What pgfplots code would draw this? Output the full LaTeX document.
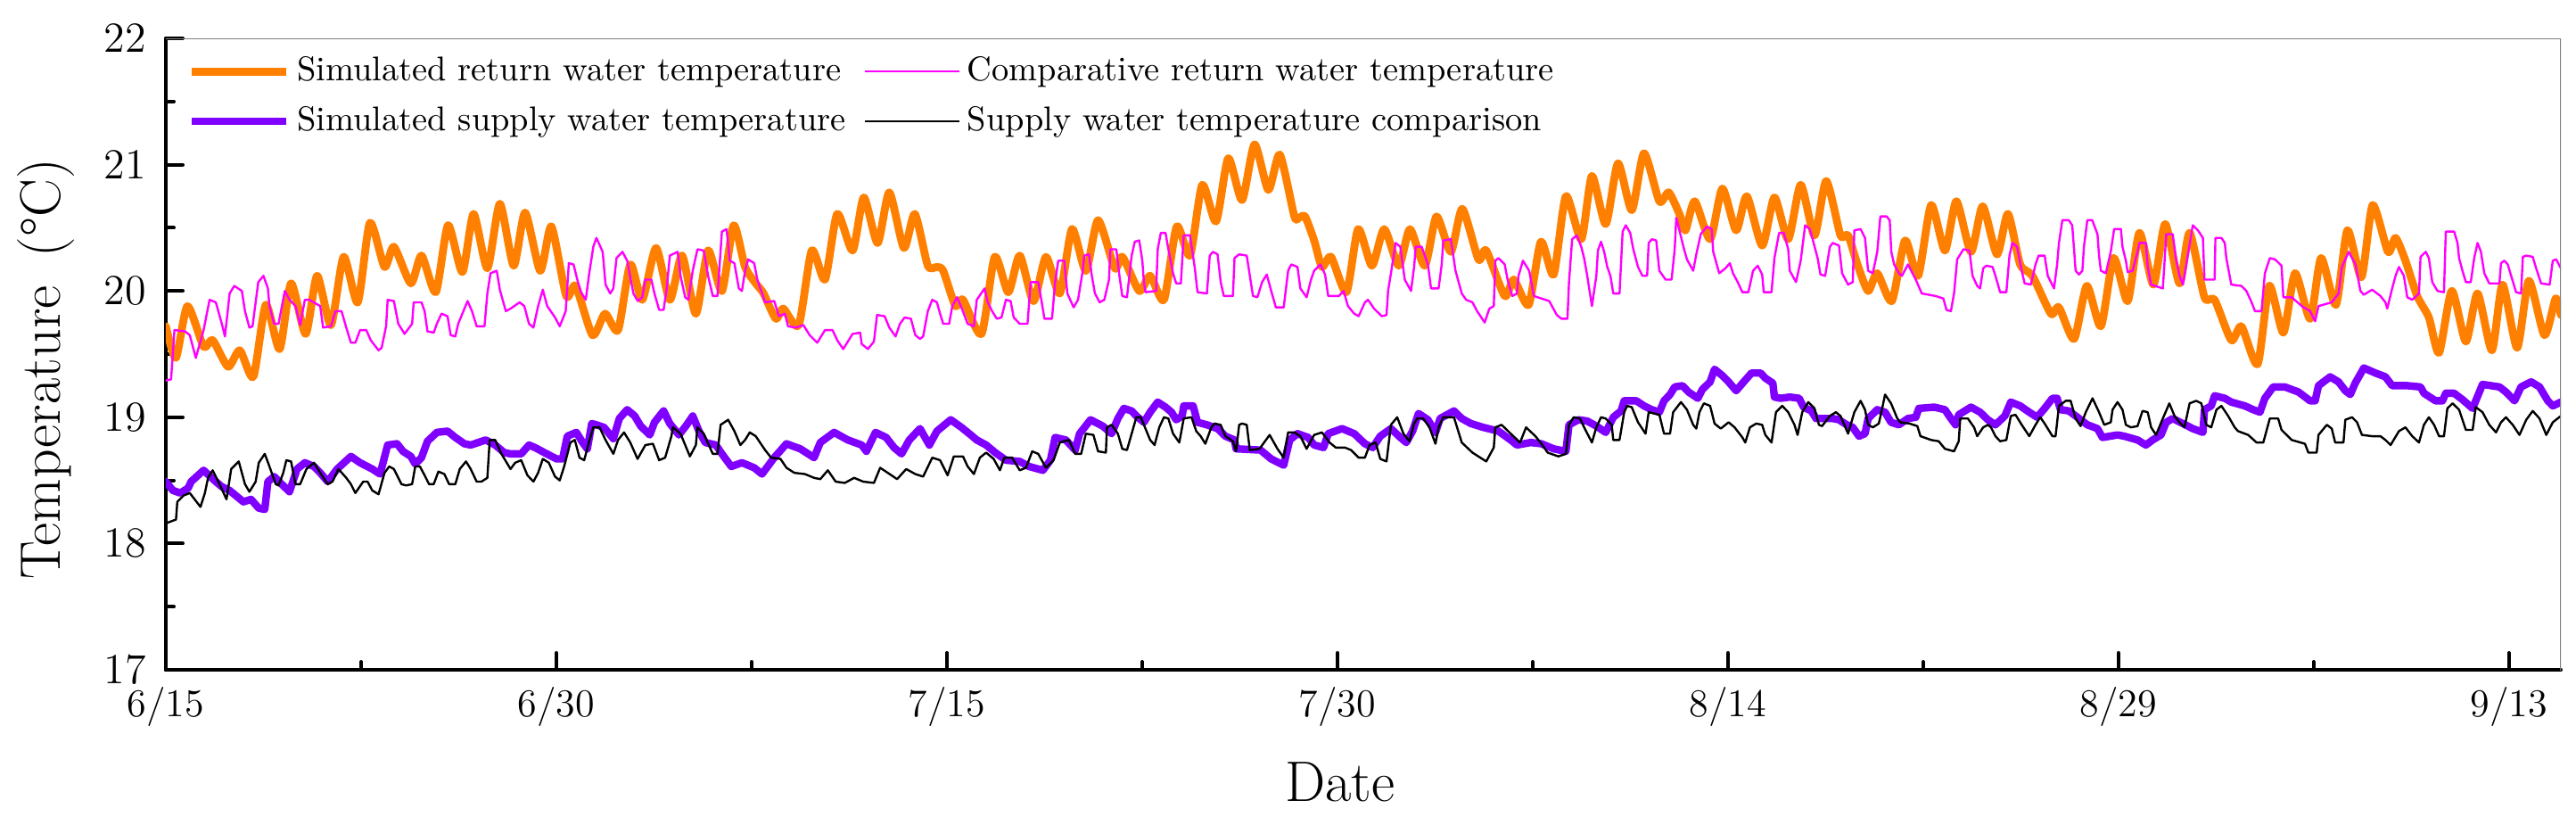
\documentclass[border=0pt]{standalone}
\usepackage{pgfplots}
\pgfplotsset{compat=1.18}
\definecolor{cOrange}{RGB}{255,128,0}
\definecolor{cPurple}{RGB}{128,0,255}
\definecolor{cMagenta}{RGB}{255,0,255}
\begin{document}
\begin{tikzpicture}
\begin{axis}[
  name=ax,
  scale only axis,
  width=671.5pt, height=177pt,
  xmin=0, xmax=92, ymin=17, ymax=22,
  axis x line*=bottom, axis y line*=left,
  axis line style={black, line width=1pt},
  xtick={0,15,30,45,60,75,90},
  xticklabels={6/15,6/30,7/15,7/30,8/14,8/29,9/13},
  minor xtick={7.5,22.5,37.5,52.5,67.5,82.5},
  ytick={17,18,19,20,21,22},
  minor ytick={17.5,18.5,19.5,20.5,21.5},
  tick align=inside,
  major tick length=4.75pt, minor tick length=2.25pt,
  every tick/.style={black, line width=1pt},
  tick label style={font=\fontsize{11}{13}\selectfont},
  yticklabel style={xshift=-2pt, font=\fontsize{11.5}{13}\selectfont},
  xticklabel style={yshift=-1.3pt},
  xlabel={Date},
  ylabel={Temperature\hspace{0.5em}(\textdegree C)},
  every axis x label/.style={at={(axis description cs:0.4903,-0.209)}, anchor=base, font=\fontsize{16}{19}\selectfont},
  every axis y label/.style={at={(axis description cs:-0.038,0.476)}, anchor=south, rotate=90, inner sep=0pt, font=\fontsize{16}{19}\selectfont},
  legend columns=2,
  legend cell align=left,
  legend style={draw=none, fill=none, at={(axis description cs:0,1)}, anchor=north west, xshift=6pt, yshift=-2.95pt, inner xsep=0pt, inner ysep=0pt, row sep=1.65pt, font=\fontsize{9.6}{11.5}\selectfont, /tikz/every even column/.append style={column sep=3pt}},
  legend image code/.code={\draw[#1] (0pt,0pt) -- (26.5pt,0pt);},
  line join=round, line cap=round,
]
\addplot[cOrange, line width=2.2pt, smooth, tension=0.4] coordinates {
(0,19.72)(0.385,19.47)(0.83,19.88)(1.45,19.56)(1.80,19.61)(2.39,19.40)(2.84,19.53)(3.36,19.32)(3.84,19.89)(4.37,19.54)(4.81,20.06)(5.37,19.66)(5.81,20.12)(6.34,19.73)(6.83,20.27)(7.37,19.91)(7.84,20.54)(8.40,20.19)(8.76,20.35)(9.41,20.06)(9.82,20.28)(10.37,19.99)(10.84,20.52)(11.39,20.15)(11.82,20.61)(12.35,20.18)(12.83,20.69)(13.36,20.20)(13.80,20.62)(14.38,20.16)(14.81,20.51)(15.38,19.96)(15.74,20.04)(16.39,19.65)(16.87,19.82)(17.37,19.69)(17.84,20.21)(18.30,19.93)(18.83,20.34)(19.36,19.93)(19.83,20.28)(20.36,19.82)(20.83,20.32)(21.36,20.00)(21.81,20.52)(22.25,20.19)(22.66,20.06)(22.96,19.98)(23.43,19.78)(23.72,19.86)(24.31,19.73)(24.81,20.32)(25.32,20.09)(25.79,20.61)(26.38,20.32)(26.81,20.74)(27.34,20.38)(27.79,20.78)(28.35,20.34)(28.77,20.61)(29.27,20.20)(29.62,20.19)(29.86,20.16)(30.33,19.88)(30.62,19.93)(31.33,19.66)(31.84,20.27)(32.36,19.99)(32.80,20.28)(33.33,19.92)(33.81,20.27)(34.34,19.98)(34.81,20.49)(35.34,20.16)(35.81,20.56)(36.45,20.18)(36.75,20.27)(37.39,20.00)(37.81,20.12)(38.34,19.93)(38.83,20.51)(39.34,20.28)(39.81,20.84)(40.34,20.55)(40.81,21.05)(41.34,20.72)(41.82,21.16)(42.35,20.80)(42.79,21.08)(43.35,20.59)(43.53,20.58)(43.76,20.59)(44.11,20.40)(44.41,20.19)(44.76,20.27)(45.35,19.99)(45.80,20.49)(46.33,20.20)(46.80,20.49)(47.36,20.20)(47.79,20.49)(48.36,20.20)(48.81,20.59)(49.36,20.31)(49.80,20.65)(50.42,20.25)(50.72,20.32)(51.43,19.96)(51.78,20.09)(52.35,19.89)(52.82,20.39)(53.31,20.13)(53.78,20.75)(54.37,20.41)(54.78,20.91)(55.31,20.53)(55.78,21.01)(56.31,20.64)(56.78,21.09)(57.37,20.71)(57.73,20.78)(58.14,20.61)(58.37,20.48)(58.73,20.71)(59.32,20.41)(59.79,20.81)(60.32,20.48)(60.73,20.75)(61.32,20.36)(61.79,20.74)(62.32,20.41)(62.80,20.84)(63.33,20.44)(63.78,20.87)(64.33,20.44)(64.62,20.44)(64.98,20.21)(65.39,20.00)(65.74,20.14)(66.30,19.92)(66.81,20.40)(67.31,20.12)(67.81,20.68)(68.34,20.32)(68.78,20.71)(69.34,20.31)(69.79,20.67)(70.34,20.29)(70.76,20.61)(71.23,20.21)(71.70,20.12)(72.41,19.82)(72.72,19.87)(73.30,19.62)(73.79,20.04)(74.33,19.72)(74.82,20.26)(75.36,19.92)(75.81,20.46)(76.35,20.05)(76.80,20.53)(77.35,20.06)(77.74,20.46)(78.31,19.95)(78.70,19.93)(79.34,19.61)(79.73,19.72)(80.35,19.42)(80.80,20.04)(81.34,19.67)(81.79,20.14)(82.37,19.78)(82.79,20.26)(83.36,19.89)(83.80,20.48)(84.34,20.11)(84.77,20.68)(85.36,20.31)(85.65,20.42)(86.03,20.24)(86.48,19.96)(86.93,19.79)(87.32,19.51)(87.81,20.00)(88.35,19.60)(88.80,19.98)(89.35,19.53)(89.76,20.05)(90.32,19.55)(90.77,20.08)(91.37,19.65)(91.80,19.94)(92,19.81)
};
\addlegendentry{Simulated return water temperature}
\addplot[cMagenta, line width=0.6pt] coordinates {
(0,19.29)(0.2,19.30)(0.33,19.69)(0.74,19.68)(0.92,19.65)(1.15,19.47)(1.45,19.69)(1.68,19.93)(1.92,19.91)(2.15,19.74)(2.27,19.64)(2.45,19.98)(2.63,20.04)(2.92,20.00)(3.04,19.84)(3.21,19.71)(3.33,19.72)(3.55,20.07)(3.75,20.12)(3.92,20.02)(3.98,19.88)(4.16,19.74)(4.33,19.74)(4.57,20.00)(4.75,19.93)(4.98,19.88)(5.16,19.73)(5.34,19.93)(5.51,19.93)(5.93,19.88)(6.04,19.71)(6.34,19.72)(6.52,19.84)(6.75,19.84)(6.93,19.71)(7.11,19.59)(7.28,19.59)(7.46,19.69)(7.70,19.69)(7.87,19.61)(8.17,19.53)(8.29,19.55)(8.46,19.72)(8.52,19.93)(8.76,19.92)(8.93,19.74)(9.17,19.66)(9.46,19.74)(9.52,19.91)(9.82,19.91)(9.94,19.84)(10.05,19.68)(10.29,19.67)(10.41,19.74)(10.59,19.82)(10.82,19.80)(10.94,19.65)(11.12,19.64)(11.23,19.74)(11.59,19.92)(11.76,19.84)(11.94,19.72)(12.24,19.72)(12.35,19.98)(12.47,20.14)(12.71,20.16)(12.83,20.01)(13.06,19.84)(13.24,19.86)(13.59,19.91)(13.77,19.88)(13.95,19.74)(14.12,19.71)(14.30,19.88)(14.48,20.01)(14.65,19.88)(14.95,19.79)(15.13,19.72)(15.36,19.84)(15.48,20.22)(15.66,20.21)(15.83,20.07)(15.95,19.99)(16.13,19.93)(16.25,20.12)(16.42,20.35)(16.54,20.42)(16.78,20.31)(16.89,20.05)(17.07,19.98)(17.19,20.02)(17.31,20.26)(17.54,20.31)(17.72,20.24)(17.96,19.98)(18.13,19.92)
(18.30,19.95)(18.42,20.09)(18.65,20.09)(18.77,19.98)(18.95,19.85)(19.12,19.85)(19.24,20.02)(19.36,20.28)(19.66,20.31)(19.77,20.12)(19.95,19.95)(20.07,19.93)(20.24,20.16)(20.42,20.33)(20.66,20.32)(20.83,20.12)(21.01,19.96)(21.19,19.96)(21.36,20.47)(21.54,20.49)(21.66,20.24)(21.84,20.22)(22.01,20.02)(22.13,20.00)(22.25,20.16)(22.37,20.25)(22.60,20.22)(22.72,20.09)(23.02,19.91)(23.37,19.92)(23.55,19.80)(23.78,19.82)(23.90,19.72)(24.20,19.71)(24.49,19.73)(24.73,19.65)(25.02,19.59)(25.32,19.69)(25.61,19.69)(25.79,19.61)(26.02,19.54)(26.20,19.60)(26.38,19.66)(26.67,19.67)(26.73,19.58)(26.97,19.54)(27.20,19.60)(27.32,19.81)(27.61,19.80)(27.79,19.71)(28.03,19.64)(28.20,19.74)(28.38,19.79)(28.62,19.78)(28.79,19.65)(28.97,19.62)(29.09,19.64)(29.27,19.84)(29.44,19.93)(29.62,19.91)(29.74,19.82)(29.86,19.74)(30.09,19.74)(30.21,19.88)(30.39,19.95)(30.56,19.87)(30.80,19.74)(31.04,19.72)(31.15,19.93)(31.45,20.02)(31.57,19.91)(31.74,19.84)(31.92,19.78)(32.10,19.79)(32.27,19.93)(32.45,19.92)(32.57,19.79)(32.80,19.74)(33.10,19.74)(33.22,20.07)(33.51,20.07)(33.63,19.93)(33.75,19.78)(34.04,19.78)(34.16,20.07)(34.28,20.24)(34.51,20.24)(34.63,19.98)(34.87,19.87)(35.04,19.93)(35.22,20.16)(35.28,20.28)(35.46,20.29)(35.57,20.12)(35.69,19.98)(35.87,19.91)(36.05,19.93)(36.23,20.09)(36.28,20.33)
(36.51,20.33)(36.63,20.12)(36.74,19.96)(36.92,19.95)(37.10,20.28)(37.22,20.39)(37.39,20.40)(37.51,20.24)(37.57,20.07)(37.63,19.99)(38.04,20.00)(38.10,20.33)(38.22,20.46)(38.40,20.46)(38.51,20.33)(38.69,20.14)(38.81,20.06)(38.99,20.06)(39.10,20.44)(39.34,20.44)(39.52,20.19)(39.63,19.99)(39.99,19.98)(40.10,20.28)(40.22,20.31)(40.40,20.29)(40.52,20.07)(40.64,19.96)(40.99,19.96)(41.05,20.26)(41.23,20.29)(41.52,20.28)(41.64,20.12)(41.76,19.96)(41.93,19.95)(42.11,20.07)(42.29,20.13)(42.46,20.00)(42.64,19.87)(42.94,19.87)(43.11,20.16)(43.23,20.21)(43.47,20.19)(43.58,20.02)(43.82,19.95)(43.99,20.09)(44.11,20.16)(44.35,20.21)(44.53,20.13)(44.65,19.96)(45.06,19.96)(45.24,20.00)(45.41,19.88)(45.65,19.82)(45.82,19.80)(46.06,19.91)(46.18,19.93)(46.41,19.86)(46.71,19.80)(46.89,19.81)(46.95,20.00)(47.06,20.14)(47.24,20.38)(47.42,20.35)(47.59,20.09)(47.83,20.00)(47.95,20.19)(48.01,20.35)(48.24,20.35)(48.48,20.21)(48.60,20.02)(48.89,20.02)(49.01,20.21)(49.07,20.40)(49.36,20.41)(49.54,20.16)(49.78,19.98)(49.95,19.93)(50.19,19.91)(50.37,19.84)(50.66,19.75)(50.84,19.86)(51.01,19.88)(51.07,20.24)(51.19,20.26)(51.43,20.21)(51.54,20.09)(51.72,19.96)(51.90,19.98)(51.96,20.12)(52.13,20.24)(52.37,20.16)(52.55,19.96)(53.14,19.92)(53.43,19.81)(53.61,19.78)(53.84,19.78)(53.90,20.07)(54.02,20.41)(54.20,20.44)(54.37,20.35)
(54.48,20.26)(54.60,20.12)(54.78,19.88)(54.95,20.12)(55.01,20.32)(55.13,20.39)(55.25,20.31)(55.37,20.19)(55.49,20.12)(55.60,19.98)(55.84,19.98)(55.96,20.47)(56.08,20.52)(56.25,20.46)(56.37,20.33)(56.55,20.19)(56.72,20.12)(56.90,20.12)(56.96,20.38)(57.08,20.41)(57.25,20.40)(57.37,20.16)(57.61,20.09)(57.84,20.09)(57.96,20.33)(58.02,20.58)(58.32,20.33)(58.43,20.25)(58.67,20.16)(58.79,20.29)(58.96,20.45)(59.20,20.51)(59.38,20.49)(59.44,20.31)(59.67,20.14)(59.91,20.18)(60.08,20.22)(60.20,20.14)(60.38,20.07)(60.56,19.99)(60.79,19.99)(60.97,20.16)(61.15,20.20)(61.32,20.13)(61.38,19.99)(61.68,19.99)(61.79,20.26)(61.97,20.46)(62.15,20.46)(62.32,20.33)(62.38,20.16)(62.62,20.07)(62.80,20.24)(62.97,20.52)(63.15,20.49)(63.27,20.40)(63.45,20.26)(63.56,20.13)(63.74,20.12)(63.92,20.35)(64.03,20.38)(64.27,20.36)(64.39,20.14)(64.62,20.05)(64.80,20.07)(64.86,20.48)(65.10,20.49)(65.27,20.42)(65.39,20.16)(65.57,20.14)(65.74,20.31)(65.86,20.59)(66.10,20.59)(66.22,20.56)(66.28,20.31)(66.39,20.21)(66.57,20.14)(66.69,20.12)(66.92,20.21)(67.22,20.09)(67.45,19.98)(67.98,19.96)(68.28,19.94)(68.40,19.85)(68.57,19.84)(68.69,19.98)(68.81,20.25)(69.05,20.33)(69.28,20.32)(69.40,20.12)(69.58,20.04)(69.69,20.02)(69.81,20.18)(69.93,20.20)(70.17,20.19)(70.28,20.12)(70.46,19.99)(70.70,19.99)(70.82,20.28)(70.93,20.38)(71.11,20.35)(71.29,20.16)(71.40,20.06)(71.64,20.05)(71.82,20.21)(71.94,20.28)(72.17,20.28)(72.29,20.12)(72.53,20.02)
(72.65,20.21)(72.72,20.38)(72.85,20.56)(73.10,20.56)(73.23,20.52)(73.30,20.33)(73.36,20.16)(73.49,20.13)(73.62,20.16)(73.68,20.35)(73.81,20.56)(74.00,20.56)(74.20,20.45)(74.26,20.28)(74.33,20.16)(74.52,20.14)(74.71,20.31)(74.84,20.49)(75.10,20.49)(75.16,20.35)(75.29,20.24)(75.36,20.15)(75.55,20.16)(75.74,20.31)(75.81,20.38)(76.06,20.38)(76.13,20.19)(76.26,20.05)(76.71,20.02)(76.77,20.21)(76.84,20.45)(77.09,20.45)(77.22,20.25)(77.35,20.12)(77.48,20.05)(77.67,20.28)(77.86,20.52)(78.06,20.48)(78.25,20.42)(78.31,20.09)(78.70,20.09)(78.73,20.42)(78.96,20.42)(79.09,20.38)(79.15,20.26)(79.34,20.05)(79.73,20.04)(79.92,20.00)(80.12,19.91)(80.25,19.84)(80.50,19.84)(80.63,20.14)(80.82,20.26)(81.02,20.25)(81.27,20.20)(81.34,19.95)(81.66,19.95)(82.05,19.88)(82.37,19.84)(82.56,19.76)(82.69,19.88)(83.20,19.91)(83.46,19.98)(83.59,20.19)(83.85,20.31)(84.11,20.21)(84.30,20.00)(84.43,19.97)(84.75,20.01)(85.07,19.96)(85.26,19.91)(85.33,19.86)(85.52,20.02)(85.65,20.12)(85.78,20.19)(85.97,20.12)(86.10,19.95)(86.29,19.93)(86.55,19.98)(86.61,20.27)(86.81,20.31)(86.93,20.26)(87.06,20.07)(87.26,20.00)(87.51,19.99)(87.58,20.47)(87.90,20.47)(88.03,20.38)(88.09,20.26)(88.22,20.16)(88.35,20.07)(88.54,20.07)(88.67,20.26)(88.80,20.38)(88.93,20.31)(89.06,20.14)(89.25,20.06)(89.64,20.06)(89.70,20.22)(89.83,20.24)(89.96,20.21)(90.09,20.12)(90.28,19.99)(90.47,19.98)(90.54,20.27)(90.67,20.28)(90.92,20.27)(91.05,20.18)(91.24,20.06)(91.57,20.05)(91.69,20.24)(91.82,20.25)(92,20.18)
};
\addlegendentry{Comparative return water temperature}
\addplot[cPurple, line width=2.1pt] coordinates {
(0,18.49)(0.27,18.42)(0.56,18.40)(0.86,18.44)(0.97,18.49)(1.45,18.58)(1.92,18.49)(2.15,18.45)(2.45,18.42)(2.98,18.33)(3.27,18.35)(3.57,18.28)(3.80,18.27)(3.92,18.49)(4.16,18.53)(4.45,18.47)(4.75,18.41)(5.04,18.59)(5.34,18.64)(5.69,18.61)(5.93,18.56)(6.22,18.49)(6.58,18.59)(7.11,18.69)(7.46,18.64)(7.93,18.59)(8.23,18.55)(8.52,18.78)(8.88,18.79)(9.11,18.73)(9.41,18.69)(9.58,18.63)(9.82,18.68)(10.05,18.81)(10.41,18.88)(10.82,18.89)(11.12,18.84)(11.47,18.79)(11.71,18.78)(12.29,18.82)(12.65,18.78)(13.00,18.72)(13.24,18.71)(13.65,18.71)(13.95,18.78)(14.18,18.76)(14.54,18.72)(15.01,18.67)(15.24,18.67)(15.42,18.85)(15.77,18.88)(16.01,18.80)(16.19,18.75)(16.36,18.95)(16.54,18.94)(16.83,18.92)(17.19,18.83)(17.42,18.99)(17.72,19.06)(18.01,19.01)
(18.24,18.93)(18.59,18.86)(18.77,18.96)(19.12,19.05)(19.36,18.95)(19.71,18.86)(20.01,18.94)(20.24,19.01)(20.48,18.89)(20.72,18.80)(21.13,18.78)(21.36,18.71)(21.72,18.61)(22.13,18.64)(22.60,18.60)(22.90,18.55)(23.37,18.68)(23.84,18.79)(24.37,18.75)(24.90,18.68)(25.14,18.80)(25.67,18.88)(26.20,18.82)(26.73,18.78)(26.91,18.73)(27.26,18.88)(27.67,18.84)(27.97,18.76)(28.26,18.71)(28.56,18.82)(28.97,18.91)(29.33,18.78)(29.62,18.89)(30.15,18.98)(30.56,18.92)(30.92,18.86)(31.15,18.82)(31.51,18.78)(31.86,18.72)(32.27,18.66)(32.80,18.65)(33.16,18.61)(33.69,18.58)(33.98,18.66)(34.16,18.84)(34.57,18.82)(34.93,18.74)(35.10,18.87)(35.52,18.98)(35.99,18.93)
(36.33,18.87)(36.57,18.99)(36.80,19.07)(37.10,19.05)(37.28,19.01)(37.57,18.96)(37.81,19.04)(38.10,19.12)(38.40,19.08)(38.63,19.04)(38.81,18.98)(39.04,19.01)(39.10,19.09)(39.46,19.09)(39.63,18.96)(39.99,18.94)(40.40,18.91)(40.70,18.85)(41.05,18.82)(41.11,18.75)(42.05,18.74)(42.46,18.67)(42.94,18.62)(43.17,18.82)(43.47,18.87)(43.88,18.84)(44.11,18.78)(44.47,18.76)(44.65,18.87)(45.18,18.91)(45.65,18.87)(46.06,18.79)(46.36,18.76)(46.65,18.85)(47.06,18.91)(47.42,18.84)(47.65,18.80)(47.89,18.89)(48.12,19.03)(48.48,18.98)(48.77,18.88)(48.95,18.99)(49.48,19.05)(49.78,18.99)(50.13,18.95)(50.60,18.92)(51.19,18.89)(51.66,18.82)(51.90,18.78)(52.43,18.80)(52.84,18.79)(53.31,18.75)(53.78,18.73)(53.90,18.94)(54.26,18.98)
(54.60,18.97)(54.95,18.93)(55.31,18.88)(55.60,19.00)(55.90,19.05)(56.02,19.13)(56.49,19.13)(56.78,19.09)(57.08,19.06)(57.37,19.04)(57.55,19.13)(57.78,19.18)(57.96,19.24)(58.26,19.25)(58.49,19.20)(58.85,19.15)(59.02,19.22)(59.32,19.28)(59.49,19.38)(59.79,19.33)(60.03,19.28)(60.32,19.21)(60.61,19.28)(60.91,19.35)(61.26,19.35)(61.44,19.31)(61.73,19.27)(61.79,19.16)(62.03,19.15)(62.38,19.16)(62.74,19.15)(62.91,19.08)(63.21,19.05)(63.39,18.99)(63.68,18.99)(64.03,18.99)(64.27,18.98)(64.57,18.94)(64.80,18.92)(65.04,18.85)(65.27,18.87)(65.39,18.99)(65.74,19.06)(66.04,19.04)(66.27,18.96)(66.57,18.94)(66.92,18.99)(67.22,19.00)(67.34,19.07)(67.93,19.08)(68.34,19.06)(68.57,18.99)(68.75,18.94)(68.87,19.02)(69.34,19.08)(69.69,19.04)(69.99,18.98)(70.28,18.94)(70.64,19.01)(70.87,19.12)(71.23,19.09)(71.58,19.04)(71.88,19.00)(72.17,19.07)(72.47,19.15)
(72.65,19.15)(72.78,19.06)(73.10,19.05)(73.43,19.00)(73.81,18.94)(74.20,18.91)(74.39,18.84)(74.97,18.86)(75.23,18.85)(75.74,18.82)(76.06,18.78)(76.32,18.82)(76.64,18.86)(76.84,18.96)(77.09,18.99)(77.48,18.95)(77.86,18.91)(78.25,18.88)(78.31,19.06)(78.57,19.09)(78.70,19.17)(79.09,19.15)(79.34,19.12)(79.86,19.09)(80.18,19.06)(80.44,19.04)(80.63,19.15)(80.95,19.24)(81.40,19.24)(81.92,19.20)(82.37,19.13)(82.56,19.13)(82.69,19.25)(83.14,19.32)(83.46,19.28)(83.72,19.21)(83.91,19.18)(84.10,19.27)(84.43,19.39)(84.88,19.35)(85.26,19.32)(85.52,19.25)(86.10,19.25)(86.61,19.24)(86.74,19.19)(87.19,19.13)(87.45,19.13)(87.58,19.19)(87.90,19.19)(88.22,19.14)(88.61,19.07)(88.99,19.26)(89.64,19.24)(89.89,19.20)(90.22,19.13)(90.47,19.24)(90.86,19.28)(91.18,19.24)(91.50,19.13)(91.69,19.09)(92,19.12)
};
\addlegendentry{Simulated supply water temperature}
\addplot[black, line width=0.6pt] coordinates {
(0,18.16)(0.39,18.19)(0.44,18.33)(0.68,18.38)(0.92,18.40)(1.33,18.29)(1.50,18.40)(1.62,18.52)(1.80,18.58)(2.04,18.48)(2.33,18.35)(2.51,18.59)(2.80,18.65)(3.04,18.47)(3.21,18.41)(3.45,18.49)(3.57,18.64)(3.80,18.71)(3.98,18.61)(4.22,18.47)(4.33,18.46)(4.51,18.56)(4.63,18.66)(4.81,18.65)(4.98,18.47)(5.16,18.47)(5.40,18.59)(5.69,18.64)(5.93,18.56)(6.22,18.47)(6.40,18.49)(6.63,18.59)(6.93,18.52)(7.11,18.47)(7.28,18.40)(7.58,18.49)(7.75,18.49)(7.93,18.42)(8.17,18.39)(8.40,18.56)(8.58,18.61)(8.76,18.59)(8.93,18.52)(9.05,18.47)(9.23,18.46)(9.46,18.47)(9.58,18.61)(9.76,18.61)(9.94,18.54)(10.11,18.47)(10.29,18.47)(10.47,18.57)(10.70,18.55)(10.88,18.47)(11.12,18.47)(11.29,18.59)(11.53,18.65)(11.71,18.59)(11.94,18.49)(12.12,18.49)(12.35,18.52)(12.44,18.82)(12.65,18.82)(12.89,18.71)(13.24,18.59)(13.42,18.64)(13.65,18.66)(13.89,18.54)(14.12,18.49)(14.30,18.56)(14.48,18.67)(14.71,18.64)(14.95,18.53)(15.13,18.50)(15.30,18.61)(15.54,18.80)(15.71,18.82)(15.89,18.68)(16.07,18.66)(16.25,18.80)(16.42,18.92)(16.66,18.92)(16.89,18.82)(17.19,18.71)(17.37,18.82)(17.60,18.88)(17.84,18.80)(18.12,18.67)
(18.42,18.78)(18.71,18.79)(18.95,18.66)(19.18,18.68)(19.42,18.85)(19.48,18.92)(19.77,18.87)(20.13,18.69)(20.36,18.78)(20.42,18.92)(20.66,18.87)(21.01,18.71)(21.19,18.71)(21.31,18.94)(21.60,18.98)(21.84,18.89)(22.07,18.78)(22.25,18.82)(22.43,18.88)(22.66,18.85)(23.02,18.74)(23.25,18.68)(23.61,18.67)(23.84,18.60)(24.14,18.56)(24.55,18.55)(24.90,18.52)(25.14,18.51)(25.43,18.58)(25.73,18.49)(26.08,18.48)(26.44,18.52)(26.79,18.49)(27.20,18.48)(27.44,18.60)(27.73,18.56)(28.09,18.51)(28.44,18.59)(28.79,18.55)(29.09,18.53)(29.44,18.68)(29.74,18.66)(30.03,18.54)(30.27,18.69)(30.62,18.69)(30.80,18.61)(31.04,18.55)(31.27,18.68)(31.51,18.72)(31.80,18.67)(32.04,18.58)(32.21,18.68)(32.51,18.68)(32.80,18.58)(33.04,18.60)(33.28,18.73)(33.51,18.71)(33.81,18.60)(34.10,18.66)(34.34,18.80)(34.69,18.82)(34.93,18.71)(35.16,18.71)(35.34,18.87)(35.63,18.86)(35.81,18.73)(36.11,18.72)
(36.15,18.92)(36.33,18.94)(36.57,18.87)(36.74,18.75)(36.92,18.74)(37.10,18.87)(37.28,19.00)(37.45,19.00)(37.57,18.94)(37.81,18.82)(37.98,18.78)(38.16,18.92)(38.34,19.00)(38.51,18.99)(38.69,18.87)(38.93,18.80)(39.10,18.99)(39.40,19.00)(39.58,18.89)(39.75,18.85)(39.93,18.79)(40.16,18.92)(40.28,18.95)(40.52,18.94)(40.70,18.85)(40.99,18.81)(41.11,18.73)(41.23,18.94)(41.34,18.95)(41.52,18.94)(41.64,18.74)(42.01,18.75)(42.40,18.86)(42.70,18.75)(42.94,18.68)(43.11,18.88)(43.35,18.88)(43.58,18.85)(43.82,18.75)(44.11,18.86)(44.41,18.88)(44.70,18.80)(44.94,18.76)(45.29,18.76)(45.53,18.74)(45.82,18.68)(46.06,18.68)(46.24,18.78)(46.47,18.80)(46.65,18.67)(46.89,18.65)(47.06,18.94)(47.30,19.00)(47.54,18.87)(47.77,18.81)(47.95,18.95)(48.07,18.99)(48.30,18.99)(48.54,18.92)(48.77,18.79)(48.89,18.92)(49.07,19.00)(49.48,19.00)(49.78,18.80)(50.19,18.72)(50.72,18.65)(51.01,18.76)(51.07,18.92)(51.31,18.94)(51.66,18.87)(52.02,18.80)(52.25,18.92)(52.61,18.85)(52.84,18.79)(53.08,18.72)(53.49,18.69)(53.78,18.71)(53.90,18.94)(54.08,19.00)(54.32,18.99)
(54.48,18.92)(54.78,18.80)(54.95,18.92)(55.13,19.00)(55.31,18.99)(55.54,18.94)(55.60,18.82)(55.84,18.82)(56.02,19.04)(56.13,19.09)(56.31,19.08)(56.55,18.96)(56.84,18.87)(56.96,19.04)(57.37,19.02)(57.55,18.87)(57.78,18.87)(57.90,19.04)(58.20,19.12)(58.43,19.06)(58.67,18.94)(58.79,18.91)(58.91,19.04)(59.08,19.11)(59.32,19.09)(59.49,18.95)(59.73,18.91)(60.03,18.96)(60.26,18.92)(60.56,18.84)(60.67,18.80)(60.85,18.92)(61.09,18.95)(61.32,18.94)(61.44,18.86)(61.68,18.80)(61.85,19.04)(62.09,19.09)(62.32,19.04)(62.56,18.94)(62.68,18.86)(62.86,19.04)(63.09,19.12)(63.33,19.07)(63.50,18.94)(63.62,18.93)(63.92,19.01)(64.15,19.04)(64.33,19.01)(64.62,18.87)(64.86,19.04)(65.10,19.13)(65.27,19.06)(65.39,18.94)(65.57,18.92)(65.80,18.95)(65.92,19.06)(66.04,19.18)(66.27,19.11)(66.51,18.99)(66.63,18.96)(66.98,18.95)(67.28,18.93)(67.40,18.85)(67.81,18.82)(68.10,18.81)(68.34,18.75)(68.69,18.73)(68.87,18.81)(68.93,18.99)(69.22,18.99)(69.46,18.92)(69.58,18.85)(69.81,18.92)(69.99,18.94)(70.11,18.92)(70.28,18.85)(70.46,18.81)(70.70,18.82)(70.87,19.01)(71.05,19.02)(71.29,18.94)(71.58,18.85)(71.82,18.94)(72.00,19.00)(72.17,18.95)(72.47,18.85)
(72.59,18.85)(72.72,19.09)(72.98,19.13)(73.17,19.13)(73.36,18.99)(73.55,18.93)(73.75,19.04)(74.01,19.15)(74.26,19.04)(74.46,18.94)(74.71,18.96)(74.78,19.06)(74.97,19.12)(75.16,19.06)(75.29,18.94)(75.48,18.92)(75.74,18.93)(75.93,19.05)(76.13,19.04)(76.26,18.92)(76.45,18.86)(76.71,18.99)(76.96,19.11)(77.16,19.01)(77.35,18.96)(77.54,18.92)(77.74,19.11)(77.99,19.13)(78.19,19.11)(78.38,18.94)(78.57,18.92)(78.77,19.06)(78.96,19.09)(79.22,19.01)(79.47,18.92)(79.60,18.89)(79.99,18.86)(80.31,18.80)(80.57,18.80)(80.82,18.99)(81.14,18.99)(81.27,18.90)(81.66,18.82)(82.17,18.79)(82.30,18.72)(82.62,18.72)(82.69,18.86)(83.01,18.94)(83.20,18.91)(83.33,18.80)(83.65,18.80)(83.72,18.98)(83.98,19.00)(84.17,18.96)(84.36,18.86)(84.75,18.85)(85.07,18.85)(85.26,18.82)(85.46,18.78)(85.78,18.89)(86.03,18.92)(86.29,18.85)(86.55,18.80)(86.74,18.94)(86.93,19.00)(87.13,18.94)(87.32,18.85)(87.51,18.85)(87.64,19.07)(87.84,19.11)(88.09,19.06)(88.35,18.90)(88.61,18.90)(88.73,19.08)(88.99,19.04)(89.25,18.94)(89.51,18.88)(89.70,18.96)(89.89,19.00)(90.15,18.94)(90.41,18.86)(90.67,18.98)(90.92,19.05)(91.18,18.99)(91.44,18.86)(91.69,18.96)(92,19.01)
};
\addlegendentry{Supply water temperature comparison}
\draw[gray, line width=0.5pt] (rel axis cs:0,1) -- (rel axis cs:1,1) -- (rel axis cs:1,0);
\end{axis}
\pgfresetboundingbox
\path[use as bounding box] (ax.south west) ++(-46.5pt,-43.25pt) rectangle ++(722.25pt,231pt);
\end{tikzpicture}
\end{document}
